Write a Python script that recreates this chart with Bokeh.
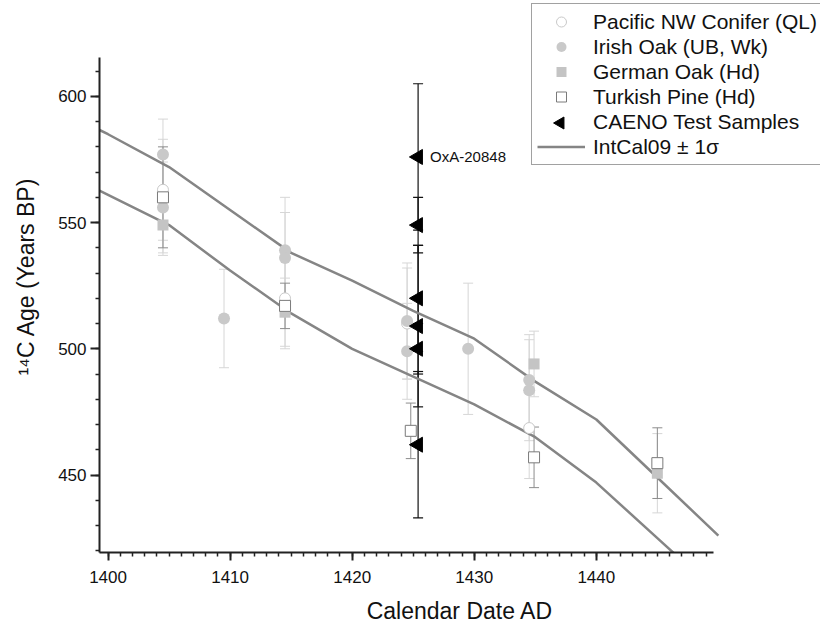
from bokeh.plotting import figure
from bokeh.models import (ColumnDataSource, Whisker, TeeHead, Legend, LegendItem,
                          Range1d, SingleIntervalTicker, Label)
from bokeh.embed import file_html
from bokeh.resources import INLINE

# ---------------- data ----------------
pacific_x = [1404.5, 1414.5, 1424.5, 1434.5]
pacific_y = [563, 520, 510, 468.6]
pacific_e = [20, 20, 22, 20]

irish_x = [1404.5, 1404.5, 1409.5, 1414.5, 1414.5, 1424.5, 1424.5, 1429.5, 1434.5, 1434.5]
irish_y = [577, 556, 512, 539, 536, 511, 499, 500, 487.6, 483.6]
irish_e = [14, 18, 19.5, 21, 18, 23, 19, 26, 18, 20]

german_x = [1404.5, 1414.5, 1434.9, 1445.0]
german_y = [549, 514.5, 494, 450.7]
german_e = [12, 13.5, 13, 15.7]

turkish_x = [1404.5, 1414.5, 1424.8, 1434.9, 1445.0]
turkish_y = [560, 517, 467.5, 457, 454.7]
turkish_e = [20, 9, 11, 12, 14]

caeno_x = [1425.4, 1425.4, 1425.4, 1425.4, 1425.4, 1425.4]
caeno_y = [576, 549, 520, 509, 500, 462]
caeno_e = [29, 11, 21, 32, 10, 29]

intcal_year = [1395, 1400, 1405, 1410, 1415, 1420, 1425, 1430, 1435, 1440, 1445, 1450]
intcal_upper = [597, 585, 572, 555, 538, 527, 515, 504, 487, 472, 449, 426]
intcal_lower = [573, 561, 549, 531, 514, 500, 489, 478, 465, 447, 425, 403]

x_title = "Calendar Date AD"
y_title = "\u00b9\u2074C Age (Years BP)"
caeno_label = "OxA-20848"
legend_labels = ["Pacific NW Conifer (QL)", "Irish Oak (UB, Wk)", "German Oak (Hd)",
                 "Turkish Pine (Hd)", "CAENO Test Samples", "IntCal09 \u00b1 1\u03c3"]

# axis extents (the drawn axes)
X_AXIS = (1399.3, 1449.6)
Y_AXIS = (419.3, 615.4)

# ---------------- layout ----------------
W, H = 820, 626
LEFT, BOTTOM = 99, 74
AXIS_W, AXIS_H = 614, 495          # drawn axis lengths in px
FRAME_W, FRAME_H = W - LEFT, H - BOTTOM
x_end = X_AXIS[0] + (X_AXIS[1] - X_AXIS[0]) * FRAME_W / AXIS_W
y_end = Y_AXIS[0] + (Y_AXIS[1] - Y_AXIS[0]) * FRAME_H / AXIS_H

FONT = "Liberation Sans"
LIGHT = "#c9c9c9"
BAR = "#d6d6d6"

p = figure(width=W, height=H, output_backend="svg", toolbar_location=None,
           x_range=Range1d(X_AXIS[0], x_end), y_range=Range1d(Y_AXIS[0], y_end),
           min_border_left=LEFT, min_border_right=0, min_border_top=0,
           min_border_bottom=BOTTOM)
p.outline_line_color = None
p.grid.visible = False
p.background_fill_color = "white"
p.border_fill_color = "white"


def bars(xs, ys, es, color, width=1):
    src = ColumnDataSource(dict(base=xs,
                                upper=[y + e for y, e in zip(ys, es)],
                                lower=[y - e for y, e in zip(ys, es)]))
    w = Whisker(source=src, base="base", upper="upper", lower="lower", dimension="height",
                line_color=color, line_width=width,
                upper_head=TeeHead(size=10, line_color=color, line_width=width),
                lower_head=TeeHead(size=10, line_color=color, line_width=width))
    p.add_layout(w)


bars(pacific_x, pacific_y, pacific_e, BAR)
bars(irish_x, irish_y, irish_e, BAR)
bars(german_x, german_y, german_e, BAR)
bars(turkish_x, turkish_y, turkish_e, "#8c8c8c")
bars(caeno_x, caeno_y, caeno_e, "#111111", 1.2)

r_up = p.line(intcal_year, intcal_upper, line_color="#858585", line_width=2.5)
r_lo = p.line(intcal_year, intcal_lower, line_color="#858585", line_width=2.5)

r_pac = p.scatter(pacific_x, pacific_y, marker="circle", size=11, fill_color="white",
                  line_color=LIGHT, line_width=1)
r_iri = p.scatter(irish_x, irish_y, marker="circle", size=12, fill_color=LIGHT,
                  line_color=None)
r_ger = p.scatter(german_x, german_y, marker="square", size=11, fill_color="#c4c4c4",
                  line_color=None)
r_tur = p.scatter(turkish_x, turkish_y, marker="square", size=11, fill_color="white",
                  line_color="#7a7a7a", line_width=1)
r_cae = p.scatter(caeno_x, caeno_y, marker="triangle", size=15, angle=90, angle_units="deg",
                  fill_color="black", line_color="black")

p.add_layout(Label(x=caeno_x[0], y=caeno_y[0], x_offset=12, text=caeno_label,
                   text_baseline="middle", text_font=FONT, text_font_size="15px",
                   text_color="#111111"))

# ---------------- axes ----------------
p.xaxis.ticker = SingleIntervalTicker(interval=10, num_minor_ticks=10)
p.yaxis.ticker = SingleIntervalTicker(interval=50, num_minor_ticks=5)
p.xaxis.bounds = X_AXIS
p.yaxis.bounds = Y_AXIS
for ax in (p.xaxis[0], p.yaxis[0]):
    ax.axis_line_color = "#222222"
    ax.axis_line_width = 2
    ax.major_tick_line_color = "#222222"
    ax.minor_tick_line_color = "#222222"
    ax.major_tick_line_width = 2
    ax.minor_tick_line_width = 1.5
    ax.major_tick_in = 0
    ax.minor_tick_in = 0
    ax.major_tick_out = 8
    ax.minor_tick_out = 4
    ax.major_label_text_font = FONT
    ax.major_label_text_font_size = "17px"
    ax.major_label_text_color = "#111111"
    ax.axis_label_text_font = FONT
    ax.axis_label_text_font_style = "normal"
    ax.axis_label_text_font_size = "23px"
    ax.axis_label_text_color = "#111111"
p.yaxis.major_tick_out = 9
p.xaxis.axis_label = x_title
p.yaxis.axis_label = y_title
p.xaxis.major_label_standoff = 10
p.xaxis.axis_label_standoff = 12
p.yaxis.major_label_standoff = 4
p.yaxis.axis_label_standoff = 16

# ---------------- legend ----------------
LEG_X, LEG_Y = 432, 387            # legend box offset from frame bottom-left, px
PAD, GW, ROW = 5, 48, 25
legend = Legend(items=[
    LegendItem(label=legend_labels[0], renderers=[r_pac]),
    LegendItem(label=legend_labels[1], renderers=[r_iri]),
    LegendItem(label=legend_labels[2], renderers=[r_ger]),
    LegendItem(label=legend_labels[3], renderers=[r_tur]),
    LegendItem(label=legend_labels[4], renderers=[]),
    LegendItem(label=legend_labels[5], renderers=[r_up]),
], location=(LEG_X, LEG_Y), orientation="vertical",
    border_line_color="#444444", border_line_width=1.5,
    background_fill_alpha=0,
    label_text_font=FONT, label_text_font_size="21px", label_text_color="#111111",
    glyph_width=GW, glyph_height=ROW, label_height=ROW, spacing=0,
    padding=PAD, margin=0, label_standoff=8)
p.add_layout(legend, "center")

# left-pointing triangle symbol for the CAENO legend entry (Bokeh legends ignore marker angle)
row_center_from_bottom = LEG_Y + PAD + ROW * 1.5
sym_x = X_AXIS[0] + (LEG_X + PAD + GW / 2) / FRAME_W * (x_end - X_AXIS[0])
sym_y = Y_AXIS[0] + row_center_from_bottom / FRAME_H * (y_end - Y_AXIS[0])
p.scatter([sym_x], [sym_y], marker="triangle", size=12, angle=90, angle_units="deg",
          fill_color="black", line_color="black")

open("out.html", "w").write(file_html(p, INLINE))
